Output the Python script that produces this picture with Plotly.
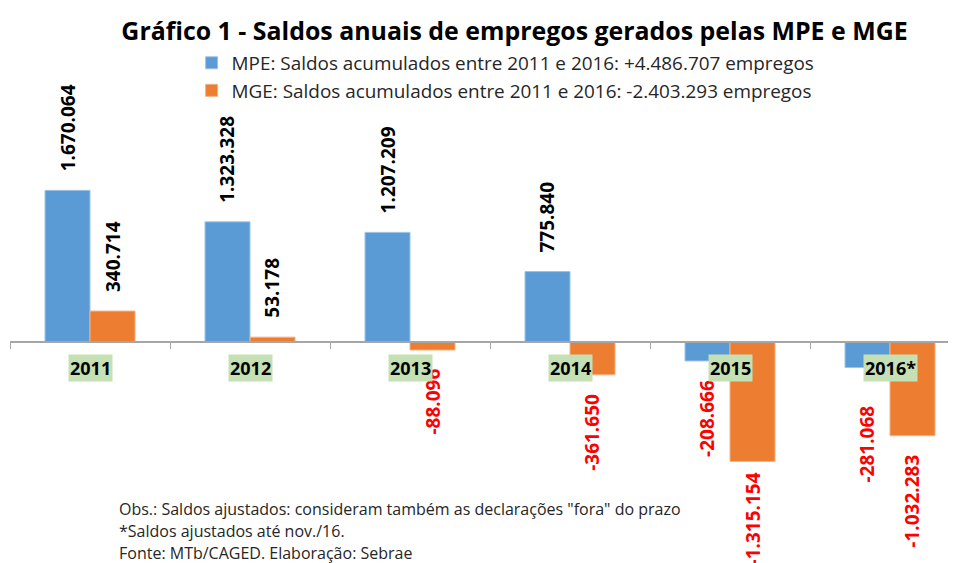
import plotly.graph_objects as go

years = ["2011", "2012", "2013", "2014", "2015", "2016*"]
mpe = [1670064, 1323328, 1207209, 775840, -208666, -281068]
mge = [340714, 53178, -88096, -361650, -1315154, -1032283]
mpe_name = "MPE: Saldos acumulados entre 2011 e 2016: +4.486.707 empregos"
mge_name = "MGE: Saldos acumulados entre 2011 e 2016: -2.403.293 empregos"
title_text = "Gráfico 1 - Saldos anuais de empregos gerados pelas MPE e MGE"
notes = [
    'Obs.: Saldos ajustados: consideram também as declarações "fora" do prazo',
    "*Saldos ajustados até nov./16.",
    "Fonte: MTb/CAGED. Elaboração: Sebrae",
]

FONT = "Open Sans, Lato, sans-serif"
BLUE = "#5b9bd5"
ORANGE = "#ed7d31"

# page body adds an 8px offset; the figure is sized to fill the rest of the window
OFF = 8
W, H = 956 - OFF, 563 - OFF
zero_px = 342 - OFF
px_per_unit = 90.8e-6
y_top = zero_px / px_per_unit
y_bot = -(H - zero_px) / px_per_unit
cat_px = 160
left_px = 10 - OFF

# label gap (px) between bar end and its value label; a few were hand-placed in the original
default_gap = 17
gap_override = {("mpe", 5): 36, ("mge", 4): 9}


def fmt(v):
    s = f"{abs(v):,}".replace(",", ".")
    return ("-" if v < 0 else "") + s


fig = go.Figure()
fig.add_trace(go.Bar(x=years, y=mpe, name=mpe_name,
                     marker=dict(color=BLUE, line=dict(color="#9dc3e6", width=1)),
                     legendgroup="a"))
fig.add_trace(go.Bar(x=years, y=mge, name=mge_name,
                     marker=dict(color=ORANGE, line=dict(color="#f4b183", width=1)),
                     legendgroup="b"))

annotations = []
for key, series, shift in (("mpe", mpe, -22.5), ("mge", mge, 22.5)):
    for i, v in enumerate(series):
        pos = v >= 0
        gap = gap_override.get((key, i), default_gap)
        annotations.append(dict(
            x=i, y=v, xref="x", yref="y", xshift=shift,
            yshift=gap if pos else -gap,
            text="<b>" + fmt(v) + "</b>", textangle=-90, showarrow=False,
            xanchor="center", yanchor="bottom" if pos else "top",
            font=dict(family=FONT, size=19, color="black" if pos else "#ff0000"),
        ))
for i, yr in enumerate(years):
    annotations.append(dict(
        x=i, y=(H - (368 - OFF)) / H, xref="x", yref="paper", text="<b>" + yr + "</b>",
        showarrow=False, bgcolor="#c5e0b4", borderpad=1,
        font=dict(family=FONT, size=18, color="black"),
        xanchor="center", yanchor="middle",
    ))
for i, t in enumerate(notes):
    annotations.append(dict(
        x=(115 - OFF) / W, y=(H - (509 + 22 * i - OFF)) / H, xref="paper", yref="paper",
        text=t, showarrow=False, xanchor="left", yanchor="middle",
        font=dict(family=FONT, size=16, color="#262626"),
    ))

fig.update_layout(
    width=W, height=H,
    margin=dict(l=left_px, r=0, t=0, b=0),
    paper_bgcolor="white", plot_bgcolor="white",
    barmode="group", bargap=0.4375, bargroupgap=0,
    title=dict(text="<b>" + title_text + "</b>", x=(514.5 - OFF) / W, xanchor="center",
               y=1 - (31 - OFF) / H, yanchor="middle",
               font=dict(family=FONT, size=24.9, color="black")),
    legend=dict(x=(190 - OFF) / W, y=1 - (44 - OFF) / H, xanchor="left", yanchor="top",
                font=dict(family=FONT, size=18.9, color="#262626"),
                traceorder="grouped", tracegroupgap=0, bgcolor="rgba(0,0,0,0)"),
    showlegend=True,
    xaxis=dict(range=[-0.5, -0.5 + (W - left_px) / cat_px], showticklabels=False, showgrid=False,
               tickson="boundaries", ticks="outside", ticklen=6, tickcolor="#a6a6a6", tickwidth=1,
               showline=True, linecolor="#a6a6a6", linewidth=1.5,
               anchor="free", position=(H - zero_px) / H, fixedrange=True),
    yaxis=dict(range=[y_bot, y_top], visible=False, showgrid=False, zeroline=False, fixedrange=True),
    annotations=annotations,
)

fig.write_html("out.html")
